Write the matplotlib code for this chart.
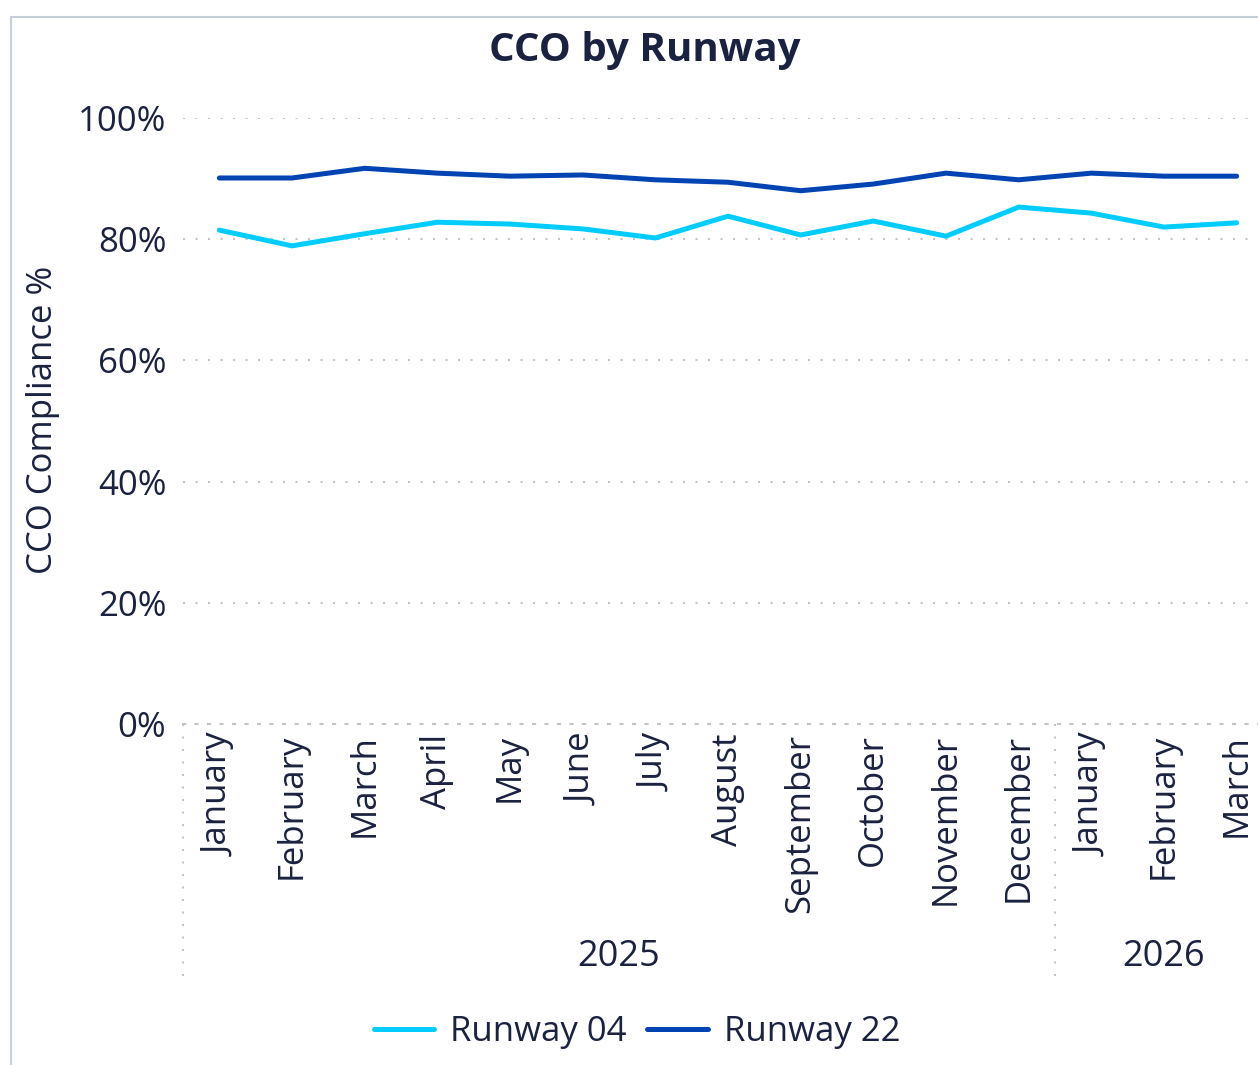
import matplotlib.pyplot as plt
from matplotlib.patches import Rectangle
import matplotlib.transforms as mtransforms

# data

months = ['January', 'February', 'March', 'April', 'May', 'June', 'July',
          'August', 'September', 'October', 'November', 'December',
          'January', 'February', 'March']
years = ['2025', '2026']
months_per_year = [12, 3]

runway_04 = [81.5, 78.9, 80.9, 82.8, 82.5, 81.7, 80.2, 83.8, 80.7, 83.0,
             80.5, 85.3, 84.3, 82.0, 82.7]
runway_22 = [90.1, 90.1, 91.7, 90.9, 90.4, 90.6, 89.8, 89.4, 88.0, 89.1,
             90.9, 89.8, 90.9, 90.4, 90.4]

text_color = '#1b2240'
grid_color = '#c4c4c4'
dots = (0, (1, 5))

plt.rcParams['font.family'] = ['Open Sans', 'DejaVu Sans']

fig = plt.figure(figsize=(12.58, 10.65), dpi=100)

# chart frame (cut off at right/bottom in the reference)
fig.patches.append(Rectangle((11 / 1258, -0.1), 1.2, 1 - 17 / 1065 + 0.1,
                             transform=fig.transFigure, fill=False,
                             edgecolor='#c5d0da', lw=1.5))

ax = fig.add_axes([183 / 1258, 1 - 724 / 1065, 1090 / 1258, 606 / 1065])

x = list(range(len(months)))
ax.plot(x, [v / 100 for v in runway_04], color='#00ccff', lw=3.6,
        solid_capstyle='round', solid_joinstyle='round', label='Runway 04')
ax.plot(x, [v / 100 for v in runway_22], color='#0044b3', lw=3.6,
        solid_capstyle='round', solid_joinstyle='round', label='Runway 22')

ax.set_xlim(-0.5, len(months) - 0.5)
ax.set_ylim(0, 1.0)
ax.set_yticks([0, 0.2, 0.4, 0.6, 0.8, 1.0])
ax.set_yticklabels(['0%', '20%', '40%', '60%', '80%', '100%'])
ax.grid(axis='y', color=grid_color, linestyle=dots, lw=1.5)
ax.set_axisbelow(True)

for s in ['top', 'right', 'left']:
    ax.spines[s].set_visible(False)
ax.spines['bottom'].set_color(grid_color)
ax.spines['bottom'].set_linestyle(dots)
ax.spines['bottom'].set_linewidth(1.5)

ax.set_xticks(x)
ax.set_xticklabels(months, rotation=90, va='top', ha='center')
ax.tick_params(axis='x', length=0, pad=7, labelsize=25, labelcolor=text_color)
ax.tick_params(axis='y', length=0, pad=12, labelsize=25, labelcolor=text_color)

# year group labels and separators
trans = mtransforms.blended_transform_factory(ax.transData, ax.transAxes)
sep_bottom = (724 - 985) / 606
start = -0.5
for year, n in zip(years, months_per_year):
    ax.plot([start, start], [0, sep_bottom], transform=trans, clip_on=False,
            color=grid_color, linestyle=dots, lw=1.5)
    ax.text(start + n / 2, (724 - 957) / 606, year, transform=trans,
            ha='center', va='center', fontsize=26, color=text_color)
    start += n

fig.text(43 / 1258, 1 - 420 / 1065, 'CCO Compliance %', rotation=90,
         ha='center', va='center', fontsize=25, color=text_color)

fig.text(645 / 1258, 1 - 50 / 1065, 'CCO by Runway', ha='center', va='center',
         fontsize=29, fontweight='bold', color=text_color)

fig.legend(loc='center', bbox_to_anchor=(637 / 1258, 1 - 1032 / 1065),
           ncol=2, frameon=False, fontsize=25, handlelength=1.75,
           columnspacing=0.6, handletextpad=0.45, labelcolor=text_color)

fig.savefig('out.png', dpi=100)
